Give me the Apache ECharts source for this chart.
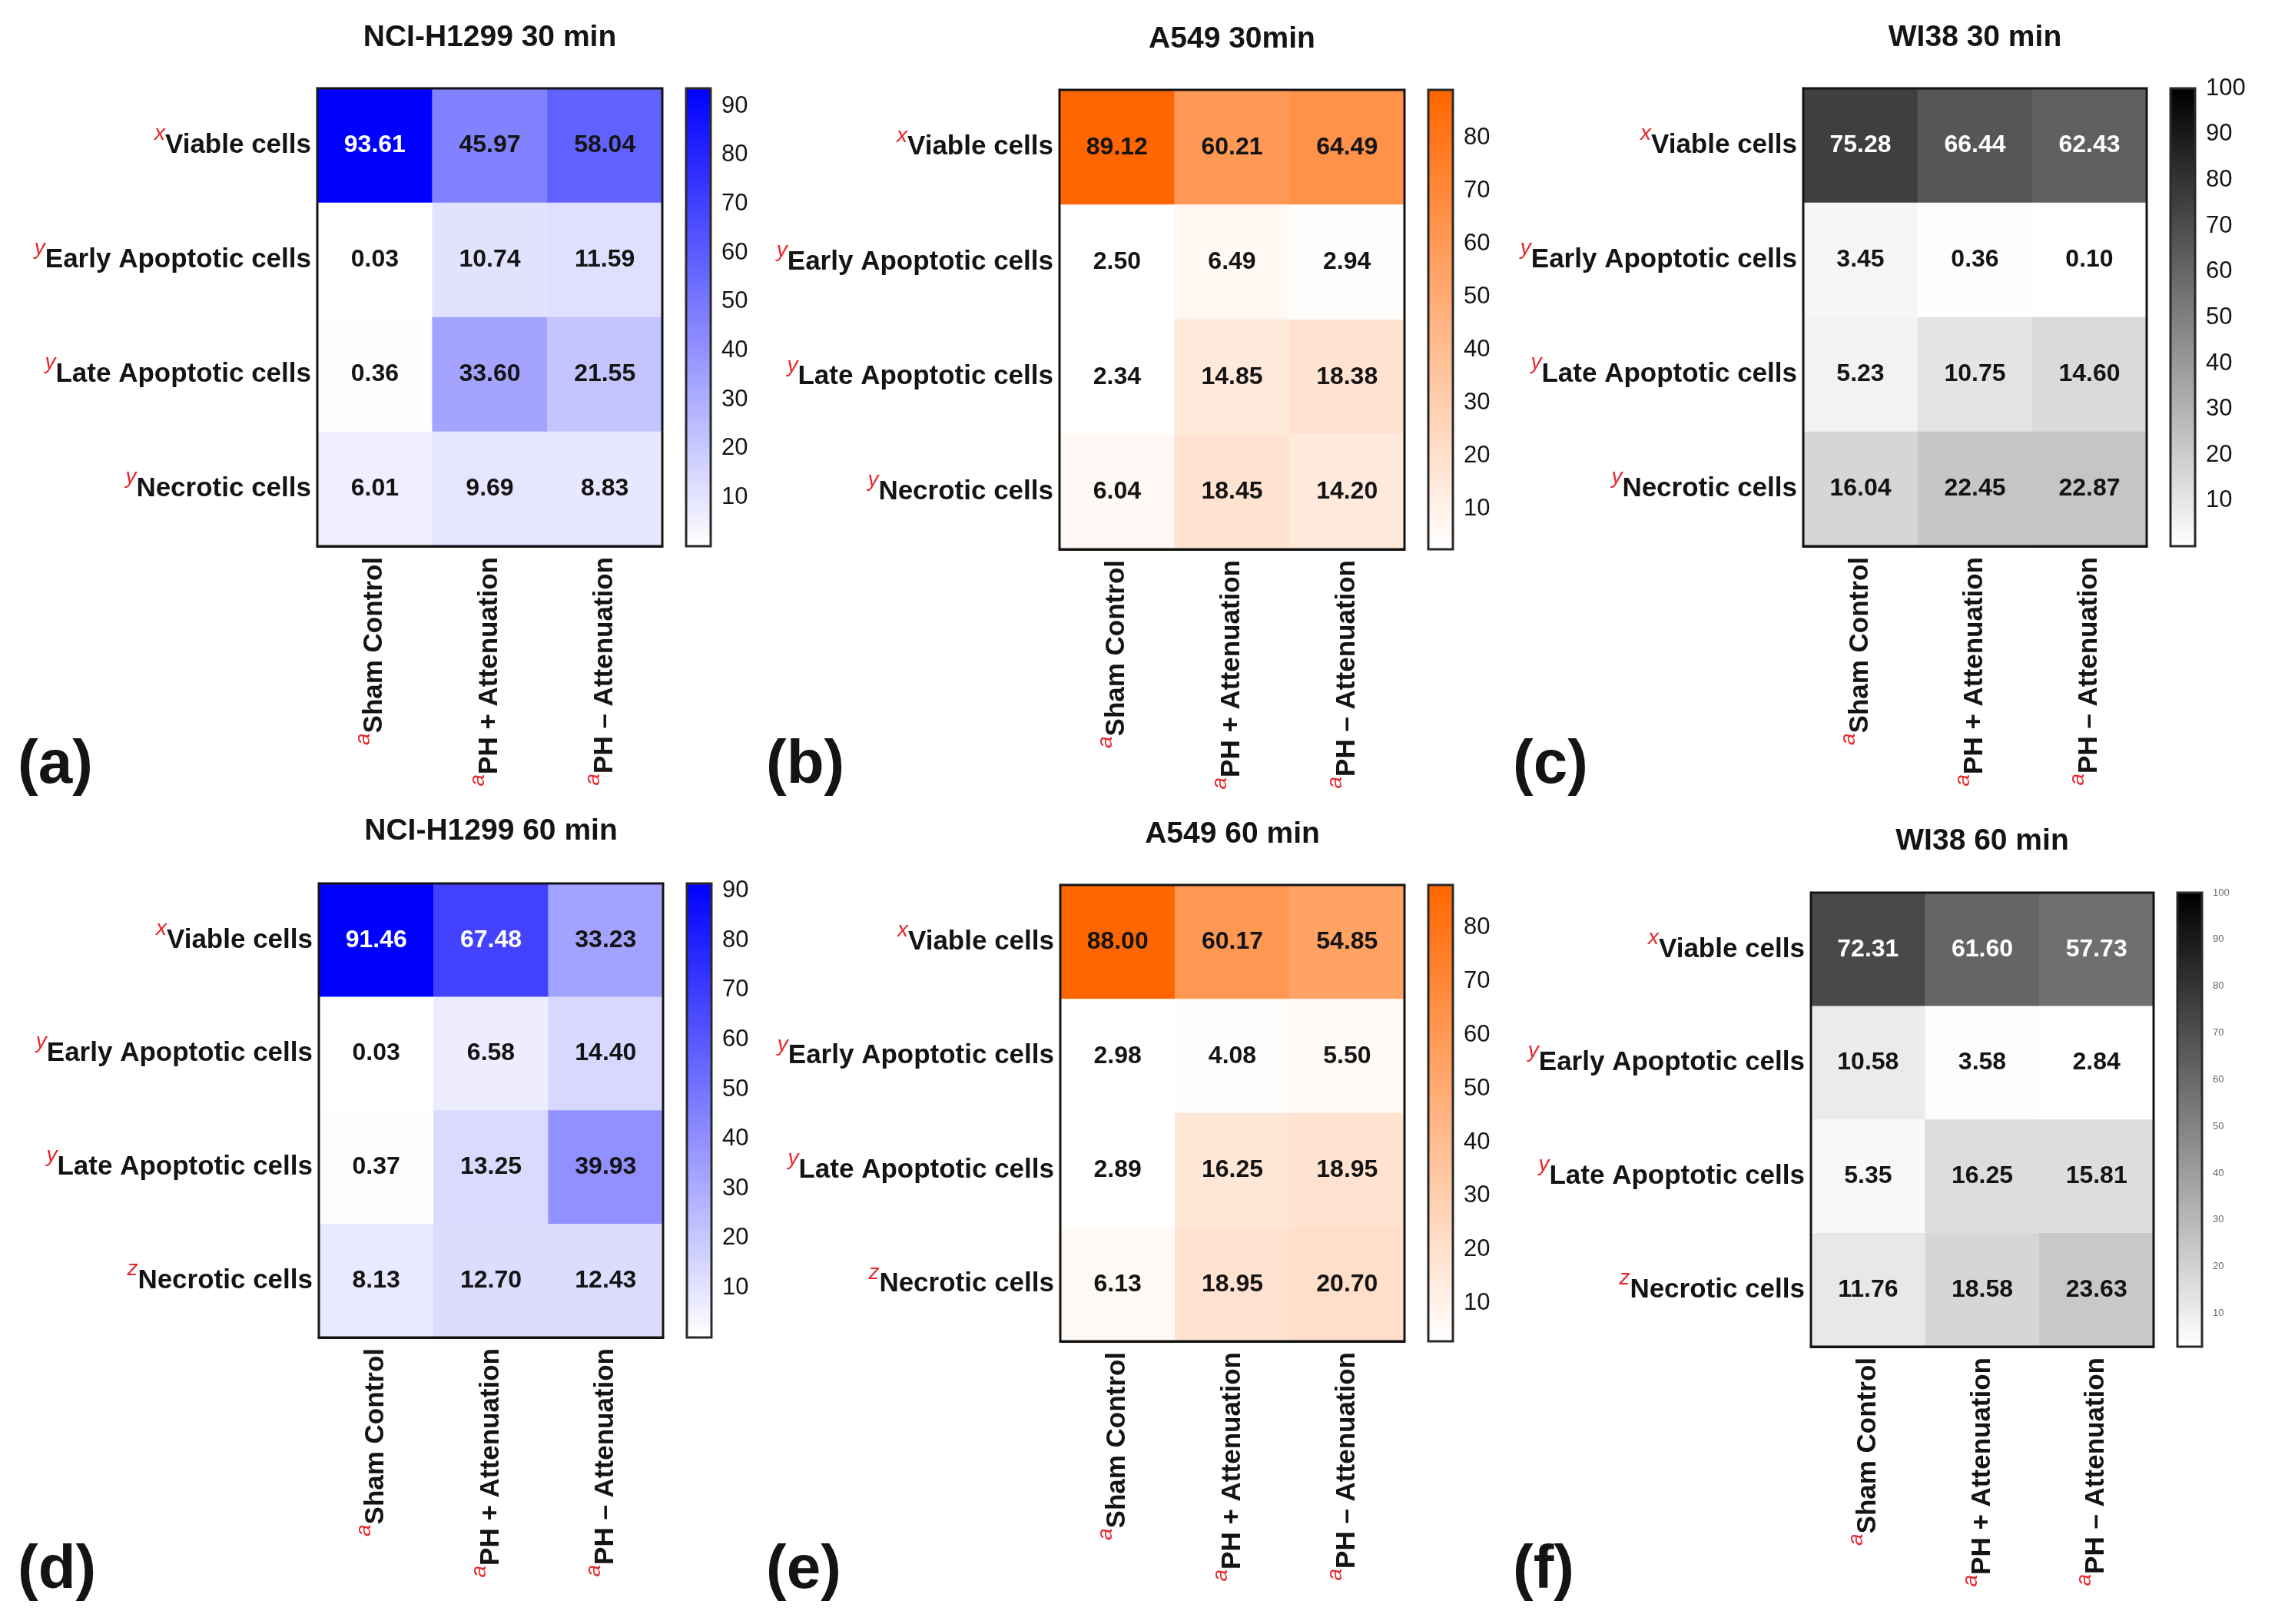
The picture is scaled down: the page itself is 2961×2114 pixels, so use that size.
<!DOCTYPE html>
<html>
<head>
<meta charset="utf-8">
<title>Cell viability heatmaps</title>
<script src="https://cdn.jsdelivr.net/npm/echarts@6/dist/echarts.min.js"></script>
<style>
  html, body { margin: 0; padding: 0; background: #fff; }
  #main { width: 2961px; height: 2114px; }
</style>
</head>
<body>
<div id="main"></div>
<script>
// categories
const rowNames = ['Viable cells', 'Early Apoptotic cells', 'Late Apoptotic cells', 'Necrotic cells']
const colNames = ['Sham Control', 'PH + Attenuation', 'PH \u2013 Attenuation']
const rowMarks30 = ['x', 'y', 'y', 'y']
const rowMarks60 = ['x', 'y', 'y', 'z']
const colMarks = ['a', 'a', 'a']
const titles = ['NCI-H1299 30 min', 'A549 30min', 'WI38 30 min', 'NCI-H1299 60 min', 'A549 60 min', 'WI38 60 min']
const letters = ['(a)', '(b)', '(c)', '(d)', '(e)', '(f)']

// values, rows = rowNames, columns = colNames
const h1299_30 = [
    [93.61, 45.97, 58.04],
    [0.03, 10.74, 11.59],
    [0.36, 33.60, 21.55],
    [6.01, 9.69, 8.83]
]
const a549_30 = [
    [89.12, 60.21, 64.49],
    [2.50, 6.49, 2.94],
    [2.34, 14.85, 18.38],
    [6.04, 18.45, 14.20]
]
const wi38_30 = [
    [75.28, 66.44, 62.43],
    [3.45, 0.36, 0.10],
    [5.23, 10.75, 14.60],
    [16.04, 22.45, 22.87]
]
const h1299_60 = [
    [91.46, 67.48, 33.23],
    [0.03, 6.58, 14.40],
    [0.37, 13.25, 39.93],
    [8.13, 12.70, 12.43]
]
const a549_60 = [
    [88.00, 60.17, 54.85],
    [2.98, 4.08, 5.50],
    [2.89, 16.25, 18.95],
    [6.13, 18.95, 20.70]
]
const wi38_60 = [
    [72.31, 61.60, 57.73],
    [10.58, 3.58, 2.84],
    [5.35, 16.25, 15.81],
    [11.76, 18.58, 23.63]
]

const FONT = '"Liberation Sans", Arial, Helvetica, sans-serif'
const INK = '#141414'
const MARK = '#e8262b'

// layout / style of each panel (box = left, top, width, height of the heatmap)
const panels = [
    { values: h1299_30, marks: rowMarks30, color: '#0000ff', white: 60, scaleMax: null, box: [413, 115, 449, 596], titleY: 49, letterX: 23, letterY: 997, cbFont: 31, cbColor: INK },
    { values: a549_30, marks: rowMarks30, color: '#ff6600', white: 999, scaleMax: null, box: [1379, 117, 449, 598], titleY: 51, letterX: 997, letterY: 997, cbFont: 31, cbColor: INK },
    { values: wi38_30, marks: rowMarks30, color: '#000000', white: 50, scaleMax: 100, box: [2347, 115, 447, 596], titleY: 49, letterX: 1969, letterY: 997, cbFont: 31, cbColor: INK },
    { values: h1299_60, marks: rowMarks60, color: '#0000ff', white: 60, scaleMax: null, box: [415, 1150, 448, 591], titleY: 1082, letterX: 23, letterY: 2045, cbFont: 31, cbColor: INK },
    { values: a549_60, marks: rowMarks60, color: '#ff6600', white: 999, scaleMax: null, box: [1380, 1152, 448, 594], titleY: 1086, letterX: 997, letterY: 2045, cbFont: 31, cbColor: INK },
    { values: wi38_60, marks: rowMarks60, color: '#000000', white: 50, scaleMax: 100, box: [2357, 1162, 446, 591], titleY: 1095, letterX: 1969, letterY: 2045, cbFont: 13, cbColor: '#666' }
]

const grid = []
const xAxis = []
const yAxis = []
const series = []
const visualMap = []
const graphic = []

const labelRich = {
    s: { color: MARK, fontStyle: 'italic', fontSize: 28, fontFamily: FONT, lineHeight: 26, verticalAlign: 'top' },
    t: { color: INK, fontSize: 35, fontWeight: 'bold', fontFamily: FONT, lineHeight: 58 }
}

panels.forEach((p, i) => {
    const [left, top, width, height] = p.box
    const flat = p.values.reduce((acc, row) => acc.concat(row), [])
    const vMin = Math.min(...flat)
    const vMax = p.scaleMax != null ? p.scaleMax : Math.max(...flat)

    // heatmap grid
    const g = grid.length
    grid.push({ left, top, width, height, show: true, borderColor: INK, borderWidth: 3, backgroundColor: 'transparent', z: 10 })
    const xi = xAxis.length
    xAxis.push({
        type: 'category', gridIndex: g, data: colNames, position: 'bottom',
        axisLine: { lineStyle: { color: INK, width: 3 } },
        axisTick: { alignWithLabel: true, length: 10, lineStyle: { color: INK, width: 3 } },
        axisLabel: {
            rotate: 90, margin: 14, interval: 0,
            formatter: (v, k) => '{s|' + colMarks[k] + '}{t|' + v + '}',
            rich: labelRich
        },
        splitLine: { show: false }
    })
    const yi = yAxis.length
    yAxis.push({
        type: 'category', gridIndex: g, data: rowNames, inverse: true,
        axisLine: { lineStyle: { color: INK, width: 3 } },
        axisTick: { alignWithLabel: true, length: 10, lineStyle: { color: INK, width: 3 } },
        axisLabel: {
            margin: 8, interval: 0,
            formatter: (v, k) => '{s|' + p.marks[k] + '}{t|' + v + '}',
            rich: labelRich
        },
        splitLine: { show: false }
    })
    const data = []
    p.values.forEach((row, r) => {
        row.forEach((v, c) => {
            data.push({ value: [c, r, v], label: { color: v > p.white ? '#ffffff' : INK } })
        })
    })
    visualMap.push({
        type: 'continuous', show: false, seriesIndex: series.length, dimension: 2,
        min: vMin, max: vMax, inRange: { color: ['#ffffff', p.color] }
    })
    series.push({
        type: 'heatmap', xAxisIndex: xi, yAxisIndex: yi, data, z: 2,
        label: {
            show: true, fontSize: 32, fontWeight: 'bold', fontFamily: FONT,
            formatter: (q) => q.value[2].toFixed(2)
        },
        emphasis: { disabled: true }
    })

    // colour bar
    const cb = grid.length
    grid.push({ left: left + width + 31, top, width: 32, height, show: true, borderColor: '#2a2a2a', borderWidth: 3, backgroundColor: 'transparent', z: 10 })
    const cbx = xAxis.length
    xAxis.push({ type: 'category', gridIndex: cb, data: [''], show: false })
    const tickStyle = { inside: true, length: 8, lineStyle: { color: '#2a2a2a', width: 2 } }
    const cby = yAxis.length
    yAxis.push({
        type: 'value', gridIndex: cb, position: 'right', min: vMin, max: vMax,
        minInterval: 10, maxInterval: 10, splitNumber: 10, z: 12,
        axisLine: { show: false }, splitLine: { show: false }, axisTick: tickStyle,
        axisLabel: {
            fontSize: p.cbFont, color: p.cbColor, fontFamily: FONT, margin: 14,
            formatter: (v) => (Math.abs(v % 10) < 1e-6 ? String(Math.round(v)) : '')
        }
    })
    yAxis.push({
        type: 'value', gridIndex: cb, position: 'left', min: vMin, max: vMax,
        minInterval: 10, maxInterval: 10, splitNumber: 10, z: 12,
        axisLine: { show: false }, splitLine: { show: false }, axisTick: tickStyle,
        axisLabel: { show: false }
    })
    series.push({
        type: 'bar', xAxisIndex: cbx, yAxisIndex: cby, data: [vMax], barWidth: '100%', silent: true, z: 2,
        itemStyle: {
            color: new echarts.graphic.LinearGradient(0, 0, 0, 1, [
                { offset: 0, color: p.color },
                { offset: 1, color: '#ffffff' }
            ])
        }
    })

    // panel title (centred over the heatmap) and letter
    graphic.push({
        type: 'text', x: left + width / 2, y: p.titleY, silent: true,
        style: { text: titles[i], fill: INK, font: 'bold 39px ' + FONT, textAlign: 'center', textVerticalAlign: 'middle' }
    })
    graphic.push({
        type: 'text', x: p.letterX, y: p.letterY, silent: true,
        style: { text: letters[i], fill: INK, font: 'bold 80px ' + FONT, textAlign: 'left', textVerticalAlign: 'middle' }
    })
})

const chart = echarts.init(document.getElementById('main'))
chart.setOption({
    animation: false,
    backgroundColor: '#ffffff',
    grid,
    xAxis,
    yAxis,
    visualMap,
    series,
    graphic
})
</script>
</body>
</html>
